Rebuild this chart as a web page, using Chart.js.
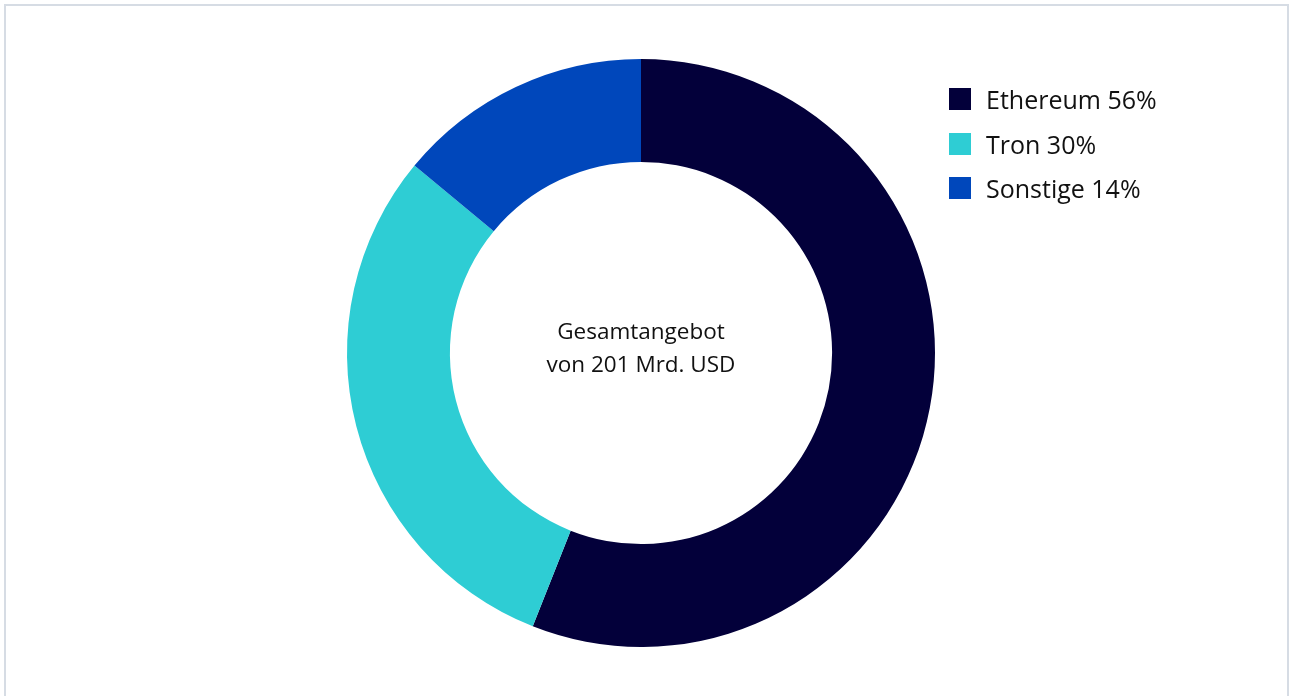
<!DOCTYPE html>
<html>
<head>
<meta charset="utf-8">
<script src="https://cdn.jsdelivr.net/npm/chart.js@4"></script>
<style>
  html, body { margin: 0; padding: 0; background: #fff; }
  body { width: 1290px; height: 696px; position: relative; overflow: hidden; font-family: "Open Sans", "Noto Sans", sans-serif; }
  #frame { position: absolute; left: 4px; top: 4px; width: 1285px; height: 720px; border: 2px solid #d6dce4; border-bottom: none; box-sizing: border-box; }
  #chart { position: absolute; left: 0; top: 0; }
  #legend { position: absolute; left: 949px; top: 88px; }
  .item { display: flex; align-items: center; height: 22px; margin-bottom: 22.5px; font-size: 25px; color: #111; }
  .box { width: 22px; height: 22px; margin-right: 15px; flex: none; }
</style>
</head>
<body>
<div id="frame"></div>
<canvas id="chart" width="1290" height="696"></canvas>
<div id="legend"></div>
<script>
const labels = ["Ethereum", "Tron", "Sonstige"];
const shares = [56, 30, 14];
const colors = ["#03003a", "#2ecdd4", "#0047bb"];
const centerLines = ["Gesamtangebot", "von 201 Mrd. USD"];

const centerText = {
  id: "centerText",
  afterDraw(chart) {
    const meta = chart.getDatasetMeta(0).data[0];
    const ctx = chart.ctx;
    ctx.save();
    ctx.font = '22.5px "Open Sans", "Noto Sans", sans-serif';
    ctx.fillStyle = "#111";
    ctx.textAlign = "center";
    ctx.textBaseline = "middle";
    ctx.fillText(centerLines[0], meta.x, meta.y - 20);
    ctx.fillText(centerLines[1], meta.x, meta.y + 13);
    ctx.restore();
  }
};

new Chart(document.getElementById("chart"), {
  type: "doughnut",
  data: {
    labels: labels,
    datasets: [{
      data: shares,
      backgroundColor: colors,
      borderWidth: 0
    }]
  },
  options: {
    responsive: false,
    animation: false,
    cutout: "65%",
    layout: { padding: { top: 59, bottom: 49, left: 0, right: 8 } },
    plugins: {
      legend: { display: false },
      tooltip: { enabled: false }
    }
  },
  plugins: [centerText]
});

const legend = document.getElementById("legend");
labels.forEach((l, i) => {
  const row = document.createElement("div");
  row.className = "item";
  row.innerHTML = `<span class="box" style="background:${colors[i]}"></span><span>${l} ${shares[i]}%</span>`;
  legend.appendChild(row);
});
</script>
</body>
</html>
